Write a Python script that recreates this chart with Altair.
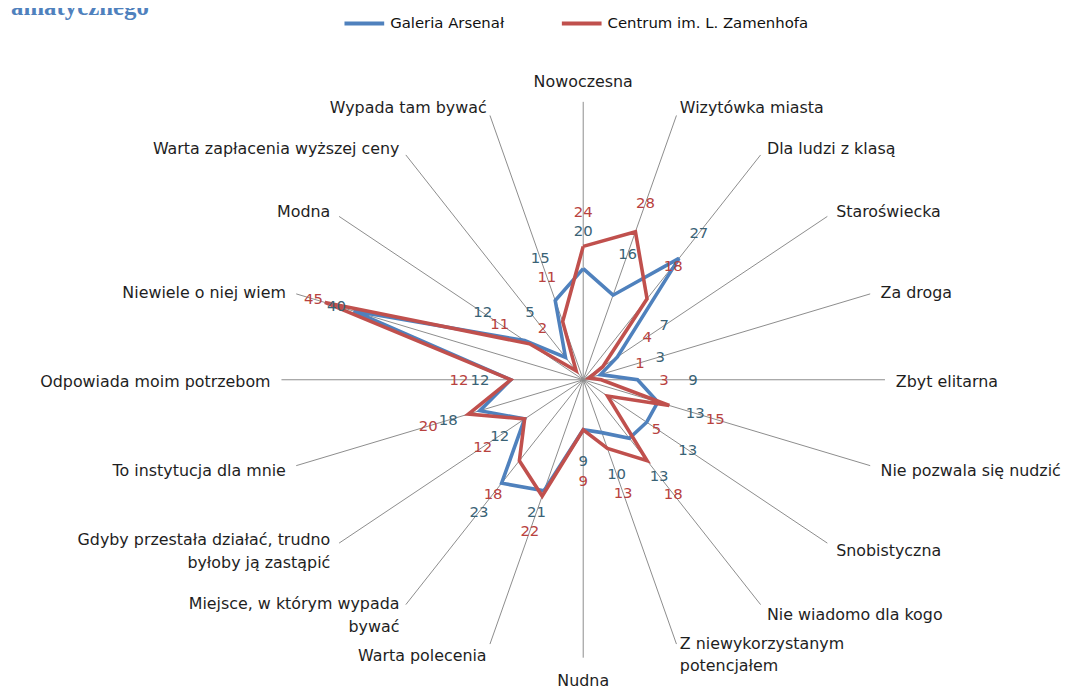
import altair as alt
import pandas as pd

categories = [
    "Nowoczesna", "Wizytówka miasta", "Dla ludzi z klasą", "Staroświecka",
    "Za droga", "Zbyt elitarna", "Nie pozwala się nudzić", "Snobistyczna",
    "Nie wiadomo dla kogo", "Z niewykorzystanym\npotencjałem", "Nudna",
    "Warta polecenia", "Miejsce, w którym wypada\nbywać",
    "Gdyby przestała działać, trudno\nbyłoby ją zastąpić",
    "To instytucja dla mnie", "Odpowiada moim potrzebom",
    "Niewiele o niej wiem", "Modna", "Warta zapłacenia wyższej ceny",
    "Wypada tam bywać",
]
arsenal = [20, 16, 27, 7, 3, 9, 13, 13, 13, 10, 9, 21, 23, 12, 18, 12, 40, 12, 5, 15]
zamenhof = [24, 28, 18, 4, 1, 3, 15, 5, 18, 13, 9, 22, 18, 12, 20, 12, 45, 11, 2, 11]
series_names = ["Galeria Arsenał", "Centrum im. L. Zamenhofa"]
series_colors = ["#4F81BD", "#C0504D"]
label_colors = ["#3A6275", "#B8423E"]
title_fragment = "ramatycznego"
axis_max = 50

N = len(categories)
W, H = 1079, 683
XD = [-95.31, 82.15]
YD = [-55.54, 66.43]

wide = pd.DataFrame({"idx": list(range(N)), "cat": categories, "a": arsenal, "c": zamenhof})

rows = []
for name, vals in zip(series_names, [arsenal, zamenhof]):
    for i in range(N + 1):
        rows.append({"series": name, "idx": i, "value": vals[i % N]})
long = pd.DataFrame(rows)

xs = alt.Scale(domain=XD, nice=False, zero=False)
ys = alt.Scale(domain=YD, nice=False, zero=False)
theta = f"datum.idx * 2 * PI / {N}"

spokes = alt.Chart(wide).transform_calculate(
    th=theta,
    zero="0",
    ex=f"{axis_max} * sin(datum.th)",
    ey=f"{axis_max} * cos(datum.th)",
).mark_rule(color="#8c8c8c", strokeWidth=1).encode(
    x=alt.X("zero:Q", scale=xs, axis=None),
    y=alt.Y("zero:Q", scale=ys, axis=None),
    x2="ex:Q",
    y2="ey:Q",
)

lines = alt.Chart(long).transform_calculate(
    th=theta,
    px="datum.value * sin(datum.th)",
    py="datum.value * cos(datum.th)",
).mark_line(strokeWidth=3.6).encode(
    x=alt.X("px:Q", scale=xs, axis=None),
    y=alt.Y("py:Q", scale=ys, axis=None),
    color=alt.Color(
        "series:N",
        scale=alt.Scale(domain=series_names, range=series_colors),
        sort=series_names,
        legend=alt.Legend(
            orient="none", legendX=337, legendY=-9, direction="horizontal",
            title=None, symbolType="stroke", symbolStrokeWidth=4,
            symbolSize=1600, labelFont="DejaVu Sans", labelFontSize=15,
            labelColor="#111", columnPadding=50, labelOffset=4, labelLimit=0,
        ),
    ),
    order="idx:Q",
    detail="series:N",
)

datalabels = alt.Chart(wide).transform_calculate(
    th=theta,
    ra0="datum.a * 0.8 + 11",
    rc0="datum.c * 0.8 + 11",
    cout="datum.c >= datum.a",
    ra="datum.cout ? min(datum.ra0, datum.rc0 - 3.5) : datum.ra0",
    rc="datum.cout ? datum.rc0 : min(datum.rc0, datum.ra0 - 3.5)",
).transform_fold(["ra", "rc"], as_=["key", "r"]).transform_calculate(
    lab="datum.key == 'ra' ? datum.a : datum.c",
    col=f"datum.key == 'ra' ? '{label_colors[0]}' : '{label_colors[1]}'",
    px="datum.r * sin(datum.th)",
    py="datum.r * cos(datum.th)",
).mark_text(font="DejaVu Sans", fontSize=15, align="center", baseline="middle").encode(
    x=alt.X("px:Q", scale=xs, axis=None),
    y=alt.Y("py:Q", scale=ys, axis=None),
    text="lab:N",
    color=alt.Color("col:N", scale=None),
)

MULTI = "indexof(datum.cat, '\\n') >= 0"


def cat_layer(filt, radius, align, dy):
    return alt.Chart(wide).transform_filter(filt).transform_calculate(
        th=theta,
        lx=f"{radius} * sin(datum.th)",
        ly=f"{radius} * cos(datum.th)",
    ).mark_text(
        font="DejaVu Sans", fontSize=16, align=align, baseline="middle",
        color="#1e1e1e", lineBreak="\n", lineHeight=23, dy=dy,
    ).encode(
        x=alt.X("lx:Q", scale=xs, axis=None),
        y=alt.Y("ly:Q", scale=ys, axis=None),
        text="cat:N",
    )


half = N // 2
right1 = cat_layer(f"datum.idx > 0 && datum.idx < {half} && !({MULTI})", 51.8, "left", 2)
right2 = cat_layer(f"datum.idx > 0 && datum.idx < {half} && ({MULTI})", 51.8, "left", -10)
left1 = cat_layer(f"datum.idx > {half} && !({MULTI})", 51.8, "right", 2)
left2 = cat_layer(f"datum.idx > {half} && ({MULTI})", 51.8, "right", -9)
top = cat_layer("datum.idx == 0", 53.6, "center", 0)
bottom = cat_layer(f"datum.idx == {half}", 54.2, "center", 0)

title = alt.Chart(pd.DataFrame({"t": [title_fragment]})).mark_text(
    align="left", baseline="alphabetic", font="Liberation Serif",
    fontWeight="bold", fontSize=25, color="#4F81BD",
).encode(text="t:N", x=alt.value(-8), y=alt.value(5))

chart = alt.layer(
    spokes, lines, datalabels, right1, right2, left1, left2, top, bottom, title
).properties(
    width=W, height=H, autosize=alt.AutoSizeParams(type="none"), padding=0,
).configure_view(stroke=None)

chart.save("out.html", embed_options={"renderer": "svg", "actions": False})
